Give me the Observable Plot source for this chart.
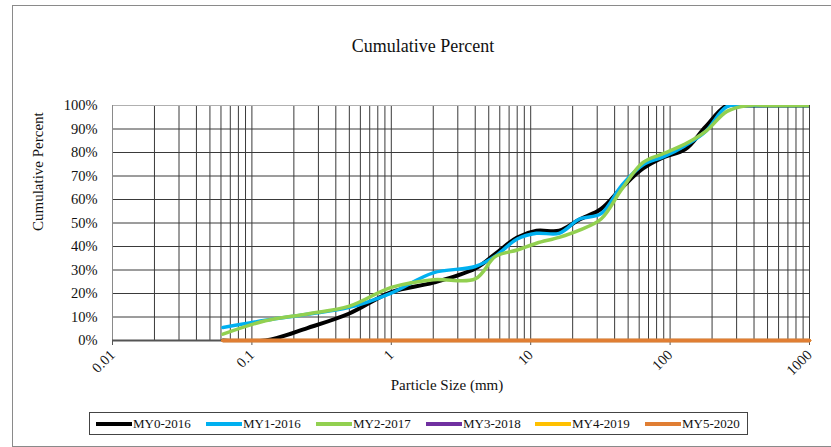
<!DOCTYPE html>
<html><head><meta charset="utf-8">
<script src="https://cdn.jsdelivr.net/npm/d3@7"></script>
<script src="https://cdn.jsdelivr.net/npm/@observablehq/plot@0.6"></script>
<style>
html,body{margin:0;padding:0;background:#fff;}
#wrap{position:relative;width:831px;height:447px;overflow:hidden;font-family:"Liberation Serif","Times New Roman",serif;color:#111;}
#frame{position:absolute;left:12px;top:5px;width:840px;height:440px;border:1px solid #8a8a8a;}
#title{position:absolute;left:0;width:846px;top:37px;text-align:center;font-size:18px;line-height:18px;}
#chart{position:absolute;left:0;top:0;}
#legend{position:absolute;left:89px;top:412px;width:659px;height:23px;border:1px solid #444;box-sizing:border-box;}
.li{position:absolute;top:0;height:21px;}
.sw{position:absolute;top:9px;width:36px;height:4px;}
.lt{position:absolute;top:3px;left:37px;font-size:13px;line-height:15px;white-space:nowrap;}
</style></head>
<body>
<div id="wrap">
  <div id="frame"></div>
  <div id="chart"></div>
  <div id="title">Cumulative Percent</div>
  <div id="legend"></div>
</div>
<script>
// Sieve sizes (mm)
const sizes = [0.062,0.125,0.25,0.5,1,2,4,5.6,8,11,16,22.4,32,45,64,90,128,180,256,362,512,1024,2048];
// Cumulative percent finer, per monitoring year
const my0_2016 = [0,0,5.3,11.5,20.6,24.6,30.6,37,43.8,46.7,46.7,51.5,56,65,73.2,78,81.3,91,100,100,100,100,100];
const my1_2016 = [5.5,8.6,11.2,14.1,20.2,28.8,31.5,36,43.2,45.6,45.6,51.7,54,66,74.8,78.2,82.9,89,99.5,100,100,100,100];
const my2_2017 = [2.7,8.4,11.3,14.6,22.6,25.9,26.2,35.8,38.5,41.4,43.9,47,51.7,64.4,75.8,79.6,83.6,89,97.5,100,100,100,100];
const my3_2018 = [0,0,0,0,0,0,0,0,0,0,0,0,0,0,0,0,0,0,0,0,0,0,0];
const my4_2019 = [0,0,0,0,0,0,0,0,0,0,0,0,0,0,0,0,0,0,0,0,0,0,0];
const my5_2020 = [0,0,0,0,0,0,0,0,0,0,0,0,0,0,0,0,0,0,0,0,0,0,0];

const seriesNames = ["MY0-2016","MY1-2016","MY2-2017","MY3-2018","MY4-2019","MY5-2020"];
const seriesColors = ["#000000","#00B0F0","#92D050","#7030A0","#FFC000","#E07E33"];
const seriesValues = [my0_2016,my1_2016,my2_2017,my3_2018,my4_2019,my5_2020];

const xTickValues = [0.01,0.1,1,10,100,1000];
const xTickLabels = ["0.01","0.1","1","10","100","1000"];
const yTickValues = [0,10,20,30,40,50,60,70,80,90,100];
const yTickLabels = ["0%","10%","20%","30%","40%","50%","60%","70%","80%","90%","100%"];

// minor log grid positions
const gridX = [];
for (let k = -2; k <= 2; k++) for (let m = 1; m <= 9; m++) gridX.push(+(m * Math.pow(10, k)).toPrecision(3));
gridX.push(1000);

const lineMarks = seriesValues.map((vals, i) => {
  const data = sizes.map((s, j) => ({size: s, pct: vals[j]}));
  return Plot.line(data, {x: "size", y: "pct", stroke: seriesColors[i], strokeWidth: i === 0 ? 4 : 3.5, curve: "catmull-rom", clip: i < 3});
});

const chart = Plot.plot({
  width: 831,
  height: 400,
  marginLeft: 112,
  marginRight: 22,
  marginTop: 105,
  marginBottom: 60,
  style: {fontFamily: '"Liberation Serif","Times New Roman",serif', background: "transparent", color: "#111"},
  x: {type: "log", domain: [0.01, 1000], clamp: true, axis: null},
  y: {domain: [0, 100], axis: null},
  marks: [
    Plot.ruleX(gridX, {stroke: "#3a3a3a", strokeWidth: 1}),
    Plot.ruleY(yTickValues.filter(v => v > 0 && v < 100), {stroke: "#3a3a3a", strokeWidth: 1}),
    Plot.ruleY([100], {stroke: "#b0b0b0", strokeWidth: 1}),
    Plot.ruleX([0.01], {stroke: "#8a8a8a", strokeWidth: 1}),
    Plot.axisX({ticks: xTickValues, tickSize: 5, tickFormat: () => "", stroke: "#555", label: null}),
    Plot.ruleY([0], {stroke: "#555", strokeWidth: 2}),
    ...lineMarks,
    Plot.text(xTickValues, {x: d => d, y: () => 0, text: (d, i) => xTickLabels[i], rotate: -45, textAnchor: "end", lineAnchor: "middle", dx: 0, dy: 12, fontSize: 14.5, fill: "#111"}),
    Plot.text(yTickValues, {x: () => 0.01, y: d => d, text: (d, i) => yTickLabels[i], textAnchor: "end", dx: -15, fontSize: 14.5, fill: "#111"}),
    Plot.text(["Cumulative Percent"], {frameAnchor: "left", rotate: -90, dx: -74, dy: 8, fontSize: 15, fill: "#111"}),
    Plot.text(["Particle Size (mm)"], {frameAnchor: "bottom", dx: -14, dy: 49, fontSize: 15, fill: "#111"})
  ]
});
document.getElementById("chart").appendChild(chart);

// legend
const legend = document.getElementById("legend");
const lefts = [6, 116, 226, 336, 445, 555];
seriesNames.forEach((name, i) => {
  const item = document.createElement("div");
  item.className = "li";
  item.style.left = lefts[i] + "px";
  item.innerHTML = `<div class="sw" style="background:${seriesColors[i]}"></div><div class="lt">${name}</div>`;
  legend.appendChild(item);
});
</script>
</body></html>
